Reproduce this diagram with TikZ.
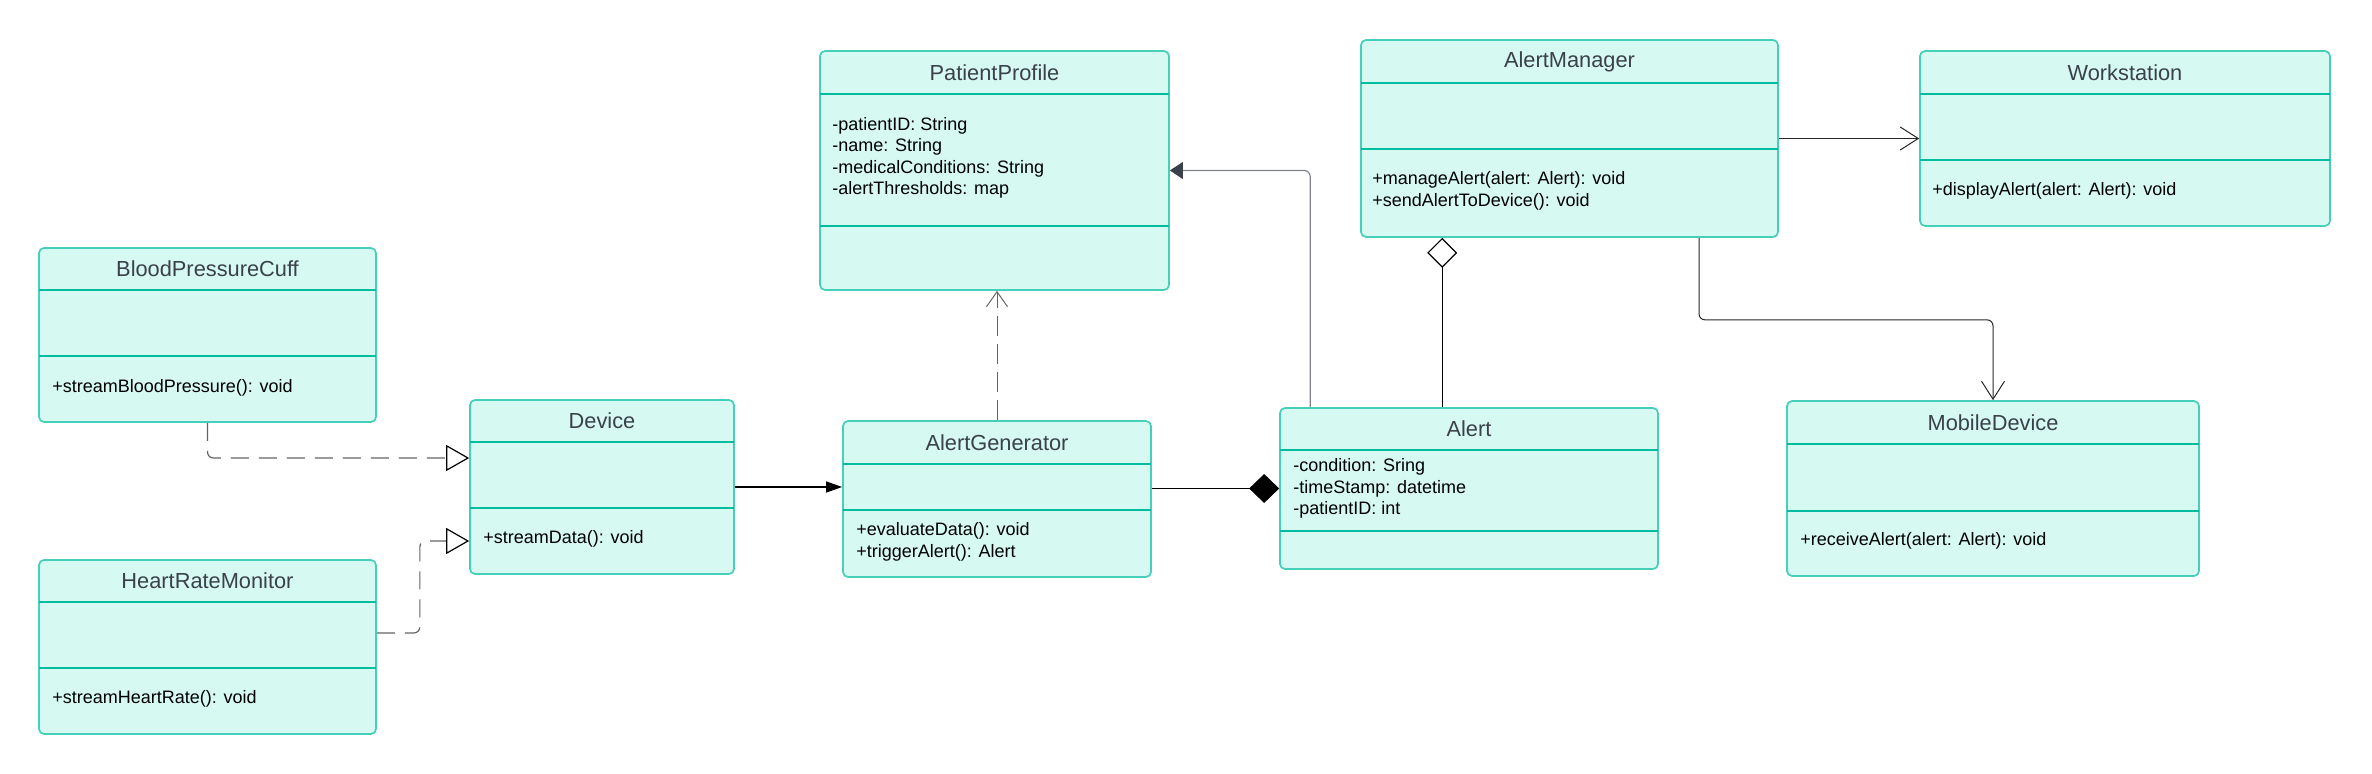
\documentclass[tikz,border=0pt]{standalone}
\usepackage{fontspec}
\setmainfont{Liberation Sans}
\usetikzlibrary{arrows.meta,fit}
\definecolor{clsfill}{RGB}{214,249,242}
\definecolor{clsline}{RGB}{70,208,186}
\definecolor{clssep}{RGB}{0,189,160}
\definecolor{titlegray}{RGB}{58,65,74}
\definecolor{dashgray}{RGB}{100,100,100}
\definecolor{linegray}{RGB}{128,132,138}

% class box: name, left, top, right, bottom, header line, separator line, title
\newcommand{\umlclass}[8]{%
  \node[cls,fit={(#2,#3)(#4,#5)}] (#1) {};
  \draw[sepline] (#2,#6) -- (#4,#6);
  \draw[sepline] (#2,#7) -- (#4,#7);
  \node[clstitle] (#1-title) at ({(#2+#4)/2},{(#3+#6)/2}) {#8};
}

\begin{document}
\begin{tikzpicture}[x=0.5pt,y=-0.5pt,>=stealth,
  cls/.style={draw=clsline,fill=clsfill,line width=0.85pt,rounded corners=2.5pt,inner sep=0pt},
  sepline/.style={draw=clssep,line width=0.75pt},
  clstitle/.style={font=\fontsize{10.9}{13}\selectfont,text=titlegray},
  member/.style={font=\fontsize{9}{10.75}\selectfont,anchor=west,align=left,inner sep=0pt},
  realize/.style={draw=dashgray,line width=0.6pt,dash pattern=on 9pt off 5pt,rounded corners=3pt,
    -{Triangle[open,length=11.5pt,width=13pt,color=black,line width=0.6pt]}},
  depend/.style={draw=dashgray,line width=0.5pt,dash pattern=on 10pt off 4pt,
    -{Straight Barb[length=7.5pt,width=10.5pt,color=dashgray]}},
  assoc/.style={draw=black,line width=0.55pt,-{Triangle[length=8pt,width=5.5pt]}},
  compose/.style={draw=black,line width=0.6pt,-{Diamond[length=15pt,width=14.5pt]}},
  aggreg/.style={draw=black,line width=0.45pt,-{Diamond[open,length=15pt,width=15pt,fill=white,line width=0.6pt]}},
  navig/.style={draw=linegray,line width=0.6pt,rounded corners=3pt,-{Triangle[length=6.5pt,width=8.5pt,color=titlegray]}},
  directed/.style={draw=black!85,line width=0.5pt,rounded corners=3pt,-{Straight Barb[length=9pt,width=11.5pt]}}]
  \useasboundingbox (0,0) rectangle (2372,774);

  % classes
  \umlclass{bpc}{39}{248}{376}{422}{290}{356}{BloodPressureCuff}
  \umlclass{hrm}{39}{560}{376}{734}{602}{668}{HeartRateMonitor}
  \umlclass{dev}{470}{400}{734}{574}{442}{508}{Device}
  \umlclass{pp}{820}{51}{1169}{290}{94}{226}{PatientProfile}
  \umlclass{ag}{843}{421}{1151}{577}{464}{510}{AlertGenerator}
  \umlclass{alert}{1280}{408}{1658}{569}{450}{531}{Alert}
  \umlclass{am}{1361}{40}{1778}{237}{83}{149}{AlertManager}
  \umlclass{ws}{1920}{51}{2330}{226}{94}{160}{Workstation}
  \umlclass{md}{1787}{401}{2199}{576}{444}{511}{MobileDevice}

  % attributes and operations
  \node[member] (bpc-ops) at (52,388) {+streamBloodPressure(): void};
  \node[member] (hrm-ops) at (52,699) {+streamHeartRate(): void};
  \node[member] (dev-ops) at (483,539) {+streamData(): void};
  \node[member] (pp-attr) at (832,158) {-patientID: String\\-name: String\\-medicalConditions: String\\-alertThresholds: map};
  \node[member] (ag-ops) at (856,542) {+evaluateData(): void\\+triggerAlert(): Alert};
  \node[member] (alert-attr) at (1293,488.5) {-condition: Sring\\-timeStamp: datetime\\-patientID: int};
  \node[member] (am-ops) at (1372,191) {+manageAlert(alert: Alert): void\\+sendAlertToDevice(): void};
  \node[member] (ws-ops) at (1932,190.5) {+displayAlert(alert: Alert): void};
  \node[member] (md-ops) at (1800,541) {+receiveAlert(alert: Alert): void};

  % relations
  \coordinate (nav-foot) at ([xshift=15.5pt]alert.north west);
  \coordinate (agg-foot) at ([xshift=81.5pt]alert.north west);
  \coordinate (mob-start) at ([xshift=64.75pt]am.south);
  \draw[realize] (bpc.south) |- ([yshift=14.5pt]dev.west);
  \draw[realize] ([yshift=7pt]hrm.east) -- ++(43,0) |- ([yshift=-27pt]dev.west);
  \draw[assoc] (dev.east) -- (dev.east -| ag.west);
  \draw[depend] (ag.north) -- (ag.north |- pp.south);
  \draw[compose] (ag.east |- alert.west) -- (alert.west);
  \draw[navig] (nav-foot) |- (pp.east);
  \draw[aggreg] (agg-foot) -- (agg-foot |- am.south);
  \draw[directed] (am.east |- ws.west) -- (ws.west);
  \draw[directed] (mob-start) -- ++(0,82) -| (md.north);
\end{tikzpicture}
\end{document}
